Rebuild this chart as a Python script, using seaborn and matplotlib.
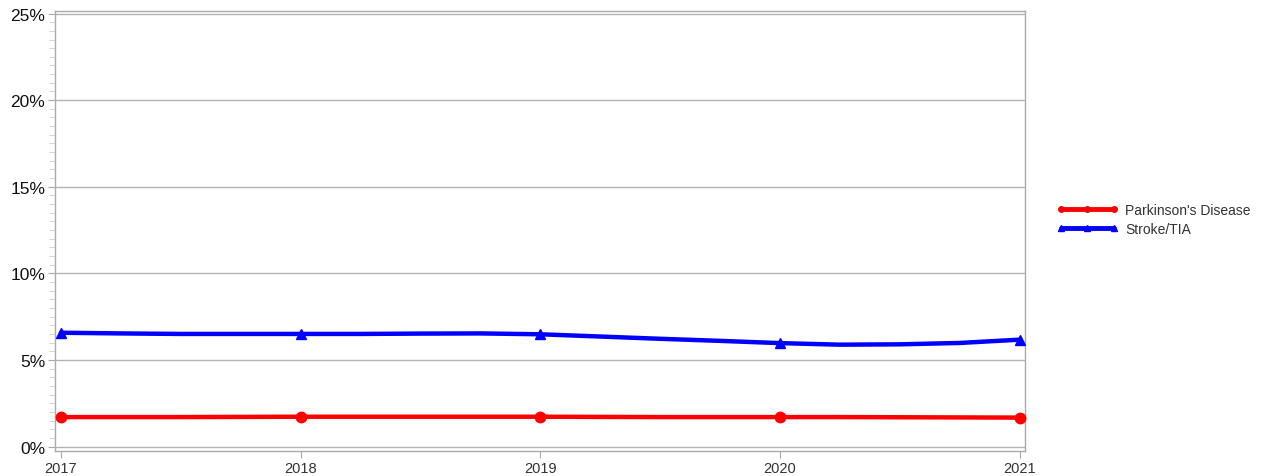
import numpy as np
import pandas as pd
import matplotlib
matplotlib.use("Agg")
import matplotlib.pyplot as plt
import seaborn as sns
from matplotlib.lines import Line2D
from matplotlib.ticker import MultipleLocator, FuncFormatter

# quarterly values, percent
quarters = [2017.0, 2017.25, 2017.5, 2017.75, 2018.0, 2018.25, 2018.5, 2018.75,
            2019.0, 2019.25, 2019.5, 2019.75, 2020.0, 2020.25, 2020.5, 2020.75, 2021.0]
parkinsons = [1.70, 1.70, 1.70, 1.71, 1.72, 1.72, 1.72, 1.72,
              1.72, 1.71, 1.70, 1.70, 1.70, 1.70, 1.69, 1.68, 1.67]
stroke = [6.57, 6.53, 6.50, 6.50, 6.50, 6.50, 6.52, 6.53,
          6.48, 6.35, 6.22, 6.10, 5.97, 5.88, 5.90, 5.98, 6.17]
years = [2017, 2018, 2019, 2020, 2021]

df = pd.DataFrame({"x": quarters, "Parkinson's Disease": parkinsons, "Stroke/TIA": stroke})
yearly = df[df["x"].isin(years)]

sns.set_style("white")
plt.rcParams['font.family'] = ['Liberation Sans', 'DejaVu Sans']

fig = plt.figure(figsize=(12.67, 4.77), dpi=100)
ax = fig.add_axes([0.0434, 0.052, 0.7656, 0.923])

styles = {"Parkinson's Disease": ("#ff0000", "o"), "Stroke/TIA": ("#0000ff", "^")}
handles = []
for name, (col, mk) in styles.items():
    sns.lineplot(x=df["x"], y=df[name], ax=ax, color=col, linewidth=3.2, zorder=3)
    ax.plot(yearly["x"], yearly[name], linestyle="none", marker=mk, color=col,
            markersize=7.5, zorder=4, clip_on=False)
    handles.append(Line2D([0], [0], color=col, linewidth=3.5, marker=mk, markersize=4))

ax.set_xlim(2016.975, 2021.022)
ax.set_ylim(-0.27, 25.15)
ax.set_xticks(years)
ax.set_xticklabels([str(y) for y in years], fontsize=10.5, color="#333333")
ax.yaxis.set_major_locator(MultipleLocator(5))
ax.yaxis.set_minor_locator(MultipleLocator(0.5))
ax.yaxis.set_major_formatter(FuncFormatter(lambda v, p: f"{v:.0f}%"))
ax.tick_params(axis="y", which="major", labelsize=12.5, length=5, color="#aaaaaa",
               labelcolor="#111111", left=True, pad=2)
ax.tick_params(axis="y", which="minor", length=4, color="#cccccc", left=True)
ax.tick_params(axis="x", length=5, color="#aaaaaa", bottom=True, pad=2)
ax.grid(axis="y", which="major", color="#b4b4b4", linewidth=1)
ax.set_xlabel("")
ax.set_ylabel("")
for s in ax.spines.values():
    s.set_color("#aaaaaa")
    s.set_linewidth(1)

ax.legend(handles, list(styles.keys()), loc="center left", bbox_to_anchor=(1.02, 0.527),
          frameon=False, numpoints=3, handlelength=4.4, handletextpad=0.5,
          labelspacing=0.35, prop={"family": ["Liberation Sans"], "size": 10})
for t in ax.get_legend().get_texts():
    t.set_color("#333333")

fig.savefig("out.png", dpi=100)
